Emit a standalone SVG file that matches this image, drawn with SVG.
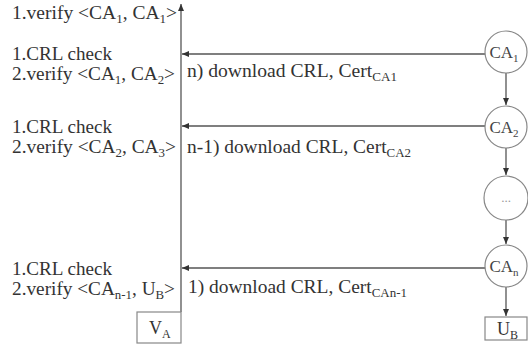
<svg xmlns="http://www.w3.org/2000/svg" width="528" height="356" viewBox="0 0 528 356">
<style>
.t{font-family:"Liberation Serif","DejaVu Serif","Times New Roman",serif;font-size:18px;fill:#333}
.s{font-size:12px}
.ln{stroke:#555;stroke-width:1.3;fill:none}
.nd{stroke:#888;stroke-width:1.2;fill:#fff}
.nt{font-family:"Liberation Serif","DejaVu Serif","Times New Roman",serif;font-size:17px;fill:#444;text-anchor:middle}
</style>
<defs>
<marker id="ah" markerWidth="8" markerHeight="8" refX="7" refY="4" orient="auto" markerUnits="userSpaceOnUse">
<path d="M0,1 L7,4 L0,7 Z" fill="#333"/>
</marker>
</defs>
<rect width="528" height="356" fill="#fff"/>
<g id="connectors">
<line class="ln" x1="181" y1="312" x2="181" y2="4" marker-end="url(#ah)"/>
<line class="ln" x1="485" y1="54" x2="182" y2="54" marker-end="url(#ah)"/>
<line class="ln" x1="485" y1="126" x2="182" y2="126" marker-end="url(#ah)"/>
<line class="ln" x1="485" y1="268" x2="182" y2="268" marker-end="url(#ah)"/>
<line class="ln" x1="506" y1="73" x2="506" y2="105" marker-end="url(#ah)"/>
<line class="ln" x1="506" y1="148" x2="506" y2="175" marker-end="url(#ah)"/>
<line class="ln" x1="506" y1="220" x2="506" y2="244" marker-end="url(#ah)"/>
<line class="ln" x1="506" y1="287" x2="506" y2="316" marker-end="url(#ah)"/>
</g>
<g id="labels">
<text class="t" x="12" y="19" textLength="165" lengthAdjust="spacingAndGlyphs">1.verify &lt;CA<tspan class="s" dy="4">1</tspan><tspan dy="-4">, CA</tspan><tspan class="s" dy="4">1</tspan><tspan dy="-4">&gt;</tspan></text>
<text class="t" x="12" y="60" textLength="100" lengthAdjust="spacingAndGlyphs">1.CRL check</text>
<text class="t" x="12" y="80" textLength="163" lengthAdjust="spacingAndGlyphs">2.verify &lt;CA<tspan class="s" dy="4">1</tspan><tspan dy="-4">, CA</tspan><tspan class="s" dy="4">2</tspan><tspan dy="-4">&gt;</tspan></text>
<text class="t" x="12" y="133" textLength="100" lengthAdjust="spacingAndGlyphs">1.CRL check</text>
<text class="t" x="12" y="153" textLength="164" lengthAdjust="spacingAndGlyphs">2.verify &lt;CA<tspan class="s" dy="4">2</tspan><tspan dy="-4">, CA</tspan><tspan class="s" dy="4">3</tspan><tspan dy="-4">&gt;</tspan></text>
<text class="t" x="12" y="275" textLength="100" lengthAdjust="spacingAndGlyphs">1.CRL check</text>
<text class="t" x="12" y="295" textLength="163" lengthAdjust="spacingAndGlyphs">2.verify &lt;CA<tspan class="s" dy="4">n-1</tspan><tspan dy="-4">, U</tspan><tspan class="s" dy="4">B</tspan><tspan dy="-4">&gt;</tspan></text>
<text class="t" x="187" y="77" textLength="210" lengthAdjust="spacingAndGlyphs">n) download CRL, Cert<tspan class="s" dy="4">CA1</tspan></text>
<text class="t" x="187" y="153" textLength="224" lengthAdjust="spacingAndGlyphs">n-1) download CRL, Cert<tspan class="s" dy="4">CA2</tspan></text>
<text class="t" x="188" y="293" textLength="219" lengthAdjust="spacingAndGlyphs">1) download CRL, Cert<tspan class="s" dy="4">CAn-1</tspan></text>
</g>
<g id="VA">
<rect class="nd" x="137" y="312" width="44" height="31"/>
<text class="t" x="149" y="334">V<tspan class="s" dy="4">A</tspan></text>
</g>
<g id="CA1">
<circle class="nd" cx="506" cy="52" r="21"/>
<text class="nt" x="504" y="58">CA<tspan font-size="11" dy="4">1</tspan></text>
</g>
<g id="CA2">
<circle class="nd" cx="506" cy="127" r="21"/>
<text class="nt" x="504" y="133">CA<tspan font-size="11" dy="4">2</tspan></text>
</g>
<g id="CAdots">
<circle class="nd" cx="506" cy="198" r="22"/>
<text class="nt" x="506" y="202" style="fill:#999;font-size:13px">...</text>
</g>
<g id="CAn">
<circle class="nd" cx="506" cy="266" r="21"/>
<text class="nt" x="504" y="272">CA<tspan font-size="11" dy="4">n</tspan></text>
</g>
<g id="UB">
<rect class="nd" x="485" y="317" width="42" height="23"/>
<text class="t" x="497" y="335">U<tspan class="s" dy="4">B</tspan></text>
</g>
</svg>
